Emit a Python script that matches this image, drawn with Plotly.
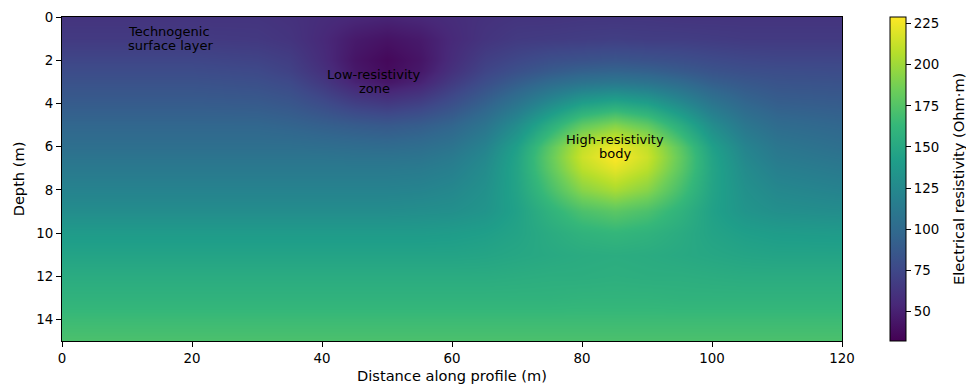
import plotly.graph_objects as go

# Distance along profile (m) – grid columns
distance = [0, 10, 20, 30, 35, 40, 45, 50, 55, 60, 65, 70, 75, 80, 85, 90, 95, 100, 105, 110, 120]
# Depth (m) – grid rows
depth = [0, 1, 2, 2.5, 3, 4, 5, 6, 6.5, 7, 8, 9, 10, 11, 12, 13, 14, 15]

r_d0 = [62, 62, 62, 62, 60, 57, 54, 52, 54, 57, 60, 62, 62, 63, 63, 63, 62, 62, 62, 62, 62]
r_d1 = [66, 66, 66, 65, 62, 55, 46, 42, 46, 55, 62, 66, 67, 68, 69, 68, 68, 67, 66, 66, 66]
r_d2 = [74, 74, 74, 72, 68, 57, 43, 36, 43, 57, 69, 75, 80, 82, 84, 82, 80, 77, 75, 74, 74]
r_d25 = [78, 78, 78, 76, 71, 60, 45, 38, 45, 60, 73, 81, 88, 93, 95, 93, 88, 83, 80, 79, 78]
r_d3 = [82, 82, 82, 80, 76, 65, 51, 44, 51, 66, 79, 90, 100, 107, 110, 107, 100, 91, 86, 83, 82]
r_d4 = [89, 89, 89, 88, 85, 78, 69, 65, 70, 80, 93, 108, 126, 142, 149, 142, 126, 109, 97, 91, 89]
r_d5 = [97, 97, 97, 97, 95, 92, 89, 87, 90, 96, 108, 128, 155, 180, 192, 180, 155, 128, 110, 101, 97]
r_d6 = [104, 104, 104, 104, 104, 103, 102, 101, 103, 108, 120, 143, 178, 211, 225, 211, 178, 143, 121, 110, 104]
r_d65 = [108, 108, 108, 108, 108, 108, 107, 107, 108, 113, 124, 146, 181, 214, 229, 214, 181, 146, 124, 113, 108]
r_d7 = [112, 112, 112, 112, 112, 112, 112, 112, 113, 117, 127, 147, 179, 209, 222, 209, 179, 147, 127, 117, 112]
r_d8 = [120, 120, 120, 120, 120, 120, 120, 120, 121, 124, 131, 146, 170, 193, 203, 193, 170, 146, 131, 124, 120]
r_d9 = [128, 128, 128, 128, 128, 128, 128, 128, 129, 130, 134, 144, 159, 172, 178, 172, 159, 144, 134, 130, 128]
r_d10 = [139, 139, 139, 139, 139, 139, 139, 139, 139, 140, 142, 146, 153, 159, 162, 159, 153, 146, 142, 140, 139]
r_d11 = [146, 146, 146, 146, 146, 146, 146, 146, 146, 146, 147, 149, 151, 153, 154, 153, 151, 149, 147, 146, 146]
r_d12 = [153, 153, 153, 153, 153, 153, 153, 153, 153, 153, 153, 154, 155, 155, 156, 155, 155, 154, 153, 153, 153]
r_d13 = [159, 159, 159, 159, 159, 159, 159, 159, 159, 159, 159, 159, 159, 160, 160, 160, 159, 159, 159, 159, 159]
r_d14 = [166, 166, 166, 166, 166, 166, 166, 166, 166, 166, 166, 166, 166, 166, 166, 166, 166, 166, 166, 166, 166]
r_d15 = [172, 172, 172, 172, 172, 172, 172, 172, 172, 172, 172, 172, 172, 172, 172, 172, 172, 172, 172, 172, 172]

resistivity = [r_d0, r_d1, r_d2, r_d25, r_d3, r_d4, r_d5, r_d6, r_d65, r_d7,
               r_d8, r_d9, r_d10, r_d11, r_d12, r_d13, r_d14, r_d15]

x_ticks = [0, 20, 40, 60, 80, 100, 120]
y_ticks = [0, 2, 4, 6, 8, 10, 12, 14]
cbar_ticks = [50, 75, 100, 125, 150, 175, 200, 225]

labels_text = [["Technogenic", "surface layer"], ["Low-resistivity", "zone"], ["High-resistivity", "body"]]
labels_x = [10, 48, 85]
labels_y = [1.0, 3.0, 6.0]
labels_align = ["left", "center", "center"]

FONT = "DejaVu Sans"
TICK = 13.4
TITLE = 14.6

fig = go.Figure()
fig.add_trace(go.Heatmap(
    x=distance, y=depth, z=resistivity,
    colorscale="Viridis", zmin=32, zmax=229, zsmooth="best",
    colorbar=dict(
        x=1.0615, xanchor="left", xref="paper",
        y=0.5, yanchor="middle", len=1.0, lenmode="fraction",
        thickness=16, thicknessmode="pixels",
        outlinewidth=1, outlinecolor="black",
        xpad=0, ypad=0,
        tickvals=cbar_ticks, ticks="outside", ticklen=5, tickcolor="black",
        tickfont=dict(family=FONT, size=TICK, color="black"),
    ),
    hoverinfo="skip",
))

for lines, xx, yy, al in zip(labels_text, labels_x, labels_y, labels_align):
    n = len(lines)
    for i, line in enumerate(lines):
        fig.add_annotation(
            x=xx, y=yy, text=line, showarrow=False,
            xanchor="left" if al == "left" else "center", yanchor="middle",
            yshift=7 * (n - 1) - 14 * i,
            font=dict(family=FONT, size=13, color="black"),
            borderpad=0,
        )

# colourbar title as a rotated text at the right edge
fig.add_annotation(
    x=(958 - 62) / 780, y=0.5, xref="paper", yref="paper",
    text="Electrical resistivity (Ohm·m)", textangle=-90, showarrow=False,
    xanchor="center", yanchor="middle",
    font=dict(family=FONT, size=TITLE, color="black"),
)

axis_common = dict(
    showgrid=False, zeroline=False, showline=True, linecolor="black", linewidth=1,
    mirror=True, ticks="outside", ticklen=5, tickcolor="black",
    tickfont=dict(family=FONT, size=TICK, color="black"),
)

fig.update_layout(
    width=966, height=384,
    margin=dict(l=62, r=124, t=17, b=43, autoexpand=False),
    paper_bgcolor="white", plot_bgcolor="white",
    font=dict(family=FONT, size=13, color="black"),
    xaxis=dict(range=[0, 120], tickvals=x_ticks,
               title=dict(text="Distance along profile (m)", standoff=5,
                          font=dict(family=FONT, size=TITLE, color="black")),
               **axis_common),
    yaxis=dict(range=[15, 0], tickvals=y_ticks,
               title=dict(text="Depth (m)", standoff=8,
                          font=dict(family=FONT, size=TITLE, color="black")),
               **axis_common),
)

fig.write_html("out.html", config={"displayModeBar": False},
               post_script="document.body.style.margin='0';")
